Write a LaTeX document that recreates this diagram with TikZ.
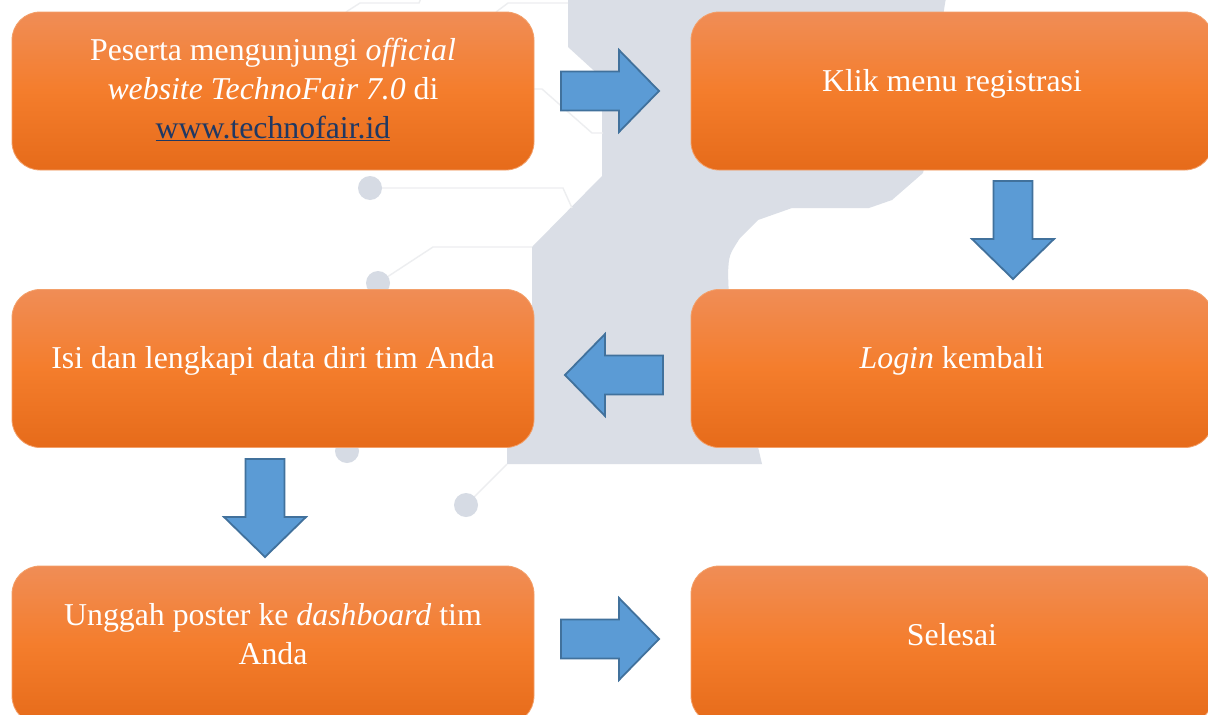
\documentclass[tikz,border=0pt]{standalone}
\usepackage{fontspec}
\setmainfont{Liberation Serif}
\usetikzlibrary{calc}
\definecolor{bgshape}{HTML}{DADEE6}
\definecolor{bgdot}{HTML}{D6DBE4}
\definecolor{bgline}{HTML}{EDEEF0}
\definecolor{boxtop}{HTML}{F08D56}
\definecolor{boxmid}{HTML}{F47D2C}
\definecolor{boxbot}{HTML}{E66B1A}
\definecolor{boxedge}{HTML}{F3A06A}
\definecolor{arrfill}{HTML}{5B9BD5}
\definecolor{arredge}{HTML}{41719C}
\definecolor{linkcol}{HTML}{1F3864}
\tikzset{
  stepbox/.style={rectangle, rounded corners=28pt, minimum width=522pt, minimum height=158pt,
    inner sep=0pt, draw=boxedge, line width=0.8pt,
    top color=boxtop, bottom color=boxbot, middle color=boxmid},
  steptext/.style={anchor=base, align=center, text=white, font=\fontsize{31.8}{39}\selectfont},
  blockarrow/.style={fill=arrfill, draw=arredge, line width=1.8pt, line join=miter},
  deco/.style={draw=bgline, line width=1.4pt},
  dot/.style={fill=bgdot}
}
\begin{document}
\begin{tikzpicture}[x=1pt,y=-1pt]
\useasboundingbox (0,0) rectangle (1208,715);
\clip (0,0) rectangle (1208,715);
\fill[white] (0,0) rectangle (1208,715);
% background watermark
\fill[bgshape] (568,-2) -- (568,47) -- (602,78) -- (602,176) -- (532,247) -- (532,420)
  -- (507,430) -- (507,464) -- (762,464) -- (758,447) -- (729,300) -- (728,273)
  .. controls (729,255) .. (740,238) -- (758,220) -- (792,208) -- (869,208) -- (892,200)
  -- (923,173) .. controls (935,120) and (938,40) .. (946,-2) -- cycle;
\draw[deco] (346,12) -- (360,3) -- (419,3) -- (421,-2);
\draw[deco] (496,12) -- (508,3) -- (568,3);
\draw[deco] (534,89) -- (542,89) -- (592,133) -- (603,133);
\draw[deco] (370,188) -- (563,188) -- (572,208);
\draw[deco] (378,283) -- (433,247) -- (532,247);
\draw[deco] (466,505) -- (507,464);
\fill[dot] (370,188) circle (12);
\fill[dot] (378,283) circle (12);
\fill[dot] (347,451) circle (12);
\fill[dot] (466,505) circle (12);
% boxes
\node[stepbox] (b1) at (273,91) {};
\node[stepbox] (b2) at (952,91) {};
\node[stepbox] (b3) at (273,368.5) {};
\node[stepbox] (b4) at (952,368.5) {};
\node[stepbox] (b5) at (273,645) {};
\node[stepbox] (b6) at (952,645) {};
% texts (base anchor = baseline of the last line)
\node[steptext] (t1) at (273,138) {Peserta mengunjungi \textit{official}\\\textit{website TechnoFair 7.0} di\\\textcolor{linkcol}{\underline{www.technofair.id}}};
\node[steptext] (t2) at (952,91) {Klik menu registrasi};
\node[steptext] (t3) at (273,368) {Isi dan lengkapi data diri tim Anda};
\node[steptext] (t4) at (952,368) {\textit{Login} kembali};
\node[steptext] (t5) at (273,664) {Unggah poster ke \textit{dashboard} tim\\Anda};
\node[steptext] (t6) at (952,645) {Selesai};
% block arrows
\coordinate (a1) at (610,91);
\coordinate (a2) at (1013,230);
\coordinate (a3) at (614,375);
\coordinate (a4) at (265,508);
\coordinate (a5) at (610,639);
\draw[blockarrow, shift={(a1)}] (-49,-19.5) -- (9,-19.5) -- (9,-41) -- (49,0) -- (9,41) -- (9,19.5) -- (-49,19.5) -- cycle;
\draw[blockarrow, shift={(a2)}, rotate=-90] (-49,-19.5) -- (9,-19.5) -- (9,-41) -- (49,0) -- (9,41) -- (9,19.5) -- (-49,19.5) -- cycle;
\draw[blockarrow, shift={(a3)}, rotate=180] (-49,-19.5) -- (9,-19.5) -- (9,-41) -- (49,0) -- (9,41) -- (9,19.5) -- (-49,19.5) -- cycle;
\draw[blockarrow, shift={(a4)}, rotate=-90] (-49,-19.5) -- (9,-19.5) -- (9,-41) -- (49,0) -- (9,41) -- (9,19.5) -- (-49,19.5) -- cycle;
\draw[blockarrow, shift={(a5)}] (-49,-19.5) -- (9,-19.5) -- (9,-41) -- (49,0) -- (9,41) -- (9,19.5) -- (-49,19.5) -- cycle;
\end{tikzpicture}
\end{document}
